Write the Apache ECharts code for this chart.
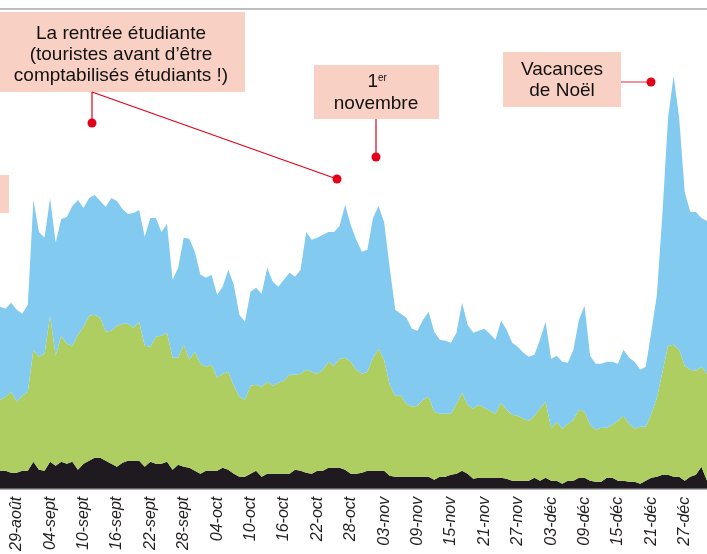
<!DOCTYPE html>
<html>
<head>
<meta charset="utf-8">
<script src="https://cdn.jsdelivr.net/npm/echarts@6/dist/echarts.min.js"></script>
<style>
html, body { margin: 0; padding: 0; background: #fff; }
#chart { width: 707px; height: 554px; }
</style>
</head>
<body>
<div id="chart"></div>
<script>
//--------------------------données------------------//
// jours du 26 août au 31 décembre
var moisFr = ['janv', 'févr', 'mars', 'avr', 'mai', 'juin', 'juil', 'août', 'sept', 'oct', 'nov', 'déc'];
var jours = [];
for (var i = 0; i < 128; i++) {
  var d = new Date(Date.UTC(2015, 7, 26 + i));
  var dd = d.getUTCDate();
  jours.push((dd < 10 ? '0' + dd : '' + dd) + '-' + moisFr[d.getUTCMonth()]);
}

// couche du bas (noir)
var noir = [18,18,16,16,18,18,27,19,18,27, 23,27,25,27,19,25,28,31,31,28,
  25,22,26,28,28,28,22,27,25,25, 27,19,24,22,21,18,15,18,18,18,
  21,19,15,12,12,15,18,12,15,15, 15,15,15,19,18,16,15,18,18,21,
  21,21,19,15,15,16,18,18,18,18, 13,12,12,12,12,12,12,12,9,12,
  12,14,15,18,15,10,11,11,11,11, 11,10,8,8,8,8,11,8,11,8,
  8,5,8,8,11,11,8,7,7,11, 11,8,8,7,7,5,8,11,12,14,
  14,12,12,8,12,14,22,8];

// couche du milieu (vert)
var vert = [71,74,81,71,75,79,112,113,117,146, 110,126,120,116,135,137,145,143,140,129,
  133,141,139,137,133,139,121,115,127,128, 129,112,107,122,108,119,110,104,106,93,
  94,98,88,80,77,88,86,90,92,88, 91,93,99,95,97,103,102,97,101,106,
  102,109,112,112,104,99,99,113,122,111, 91,81,81,73,70,71,77,80,68,63,
  63,61,70,78,69,70,73,70,67,64, 75,69,66,65,62,60,62,72,76,53,
  59,55,57,61,68,66,56,52,54,50, 53,60,65,58,53,57,54,64,79,103,
  129,132,127,115,107,104,100,107];

// couche du haut (bleu)
var bleu = [93,88,89,92,82,87,150,125,116,118, 113,117,127,140,135,119,118,120,117,125,
  133,125,115,110,115,112,109,129,119,104, 109,78,90,107,121,100,89,89,90,83,
  87,102,101,82,78,94,97,93,114,104, 96,101,102,98,104,138,132,136,135,130,
  134,133,153,137,130,122,122,140,143,138, 117,86,82,86,78,75,80,85,80,74,
  73,71,71,90,80,76,74,79,77,74, 82,80,72,69,66,64,61,69,80,69,
  66,67,61,70,90,106,69,66,64,66, 63,57,66,66,67,57,60,82,103,159,
  228,269,232,174,158,159,149,153];

var rose = '#f9d1c4';
var rouge = '#e2001a';
var police = '"Liberation Sans", Arial, sans-serif';

//--------------------------graphique------------------//
var myChart = echarts.init(document.getElementById('chart'));

function serie(nom, data, couleur) {
  return {
    name: nom,
    type: 'line',
    stack: 'total',
    data: data,
    symbol: 'none',
    silent: true,
    lineStyle: { width: 0 },
    areaStyle: { color: couleur, opacity: 1 }
  };
}

var option = {
  animation: false,
  grid: { left: 0, right: 0, top: 9, bottom: 65 },
  xAxis: {
    type: 'category',
    boundaryGap: false,
    data: jours,
    axisLine: { lineStyle: { color: '#9b9b9b', width: 1.5 } },
    axisTick: { show: false },
    axisLabel: {
      rotate: 90,
      margin: 8,
      interval: function(idx) {
        return idx >= 3 && (idx - 3) % 6 === 0;
      },
      fontFamily: police,
      fontStyle: 'italic',
      fontSize: 16,
      color: '#231f20'
    }
  },
  yAxis: { type: 'value', min: 0, max: 480, show: false },
  series: [
    serie('noir', noir, '#1f1a1f'),
    serie('vert', vert, '#aece62'),
    serie('bleu', bleu, '#82caf0')
  ],
  graphic: [
    // ligne du haut
    { type: 'line', z: 10, shape: { x1: 0, y1: 9, x2: 707, y2: 9 }, style: { stroke: '#a8a8a8', lineWidth: 1.5 } },
    // encadré coupé à gauche
    { type: 'rect', z: 10, shape: { x: 0, y: 175, width: 9, height: 38 }, style: { fill: rose } },

    // rentrée étudiante
    { type: 'rect', z: 10, shape: { x: 0, y: 12, width: 245, height: 80 }, style: { fill: rose } },
    { type: 'text', z: 11, x: 121, y: 55, style: {
      text: 'La rentrée étudiante\n(touristes avant d\u2019être\ncomptabilisés étudiants !)',
      font: '19px ' + police, fill: '#111', textAlign: 'center', textVerticalAlign: 'middle', lineHeight: 21 } },
    { type: 'line', z: 11, shape: { x1: 92, y1: 92, x2: 92, y2: 123 }, style: { stroke: rouge, lineWidth: 1.2 } },
    { type: 'line', z: 11, shape: { x1: 92, y1: 92, x2: 337, y2: 179 }, style: { stroke: rouge, lineWidth: 1.2 } },
    { type: 'circle', z: 12, shape: { cx: 92, cy: 123, r: 4.5 }, style: { fill: rouge } },
    { type: 'circle', z: 12, shape: { cx: 337, cy: 179, r: 4.5 }, style: { fill: rouge } },

    // 1er novembre
    { type: 'rect', z: 10, shape: { x: 314, y: 65, width: 125, height: 54 }, style: { fill: rose } },
    { type: 'text', z: 11, x: 378, y: 82, style: {
      text: '1', font: '19px ' + police, fill: '#111', textAlign: 'right', textVerticalAlign: 'middle' } },
    { type: 'text', z: 11, x: 378, y: 78, style: {
      text: 'er', font: '10px ' + police, fill: '#111', textAlign: 'left', textVerticalAlign: 'middle' } },
    { type: 'text', z: 11, x: 376, y: 104, style: {
      text: 'novembre', font: '19px ' + police, fill: '#111', textAlign: 'center', textVerticalAlign: 'middle' } },
    { type: 'line', z: 11, shape: { x1: 376, y1: 119, x2: 376, y2: 157 }, style: { stroke: rouge, lineWidth: 1.2 } },
    { type: 'circle', z: 12, shape: { cx: 376, cy: 157, r: 4.5 }, style: { fill: rouge } },

    // vacances de Noël
    { type: 'rect', z: 10, shape: { x: 503, y: 52, width: 118, height: 55 }, style: { fill: rose } },
    { type: 'text', z: 11, x: 562, y: 80, style: {
      text: 'Vacances\nde Noël', font: '19px ' + police, fill: '#111', textAlign: 'center', textVerticalAlign: 'middle', lineHeight: 21 } },
    { type: 'line', z: 11, shape: { x1: 621, y1: 82, x2: 651, y2: 82 }, style: { stroke: '#e84a57', lineWidth: 1.2 } },
    { type: 'circle', z: 12, shape: { cx: 651, cy: 82, r: 4.5 }, style: { fill: rouge } }
  ]
};
myChart.setOption(option);
</script>
</body>
</html>
